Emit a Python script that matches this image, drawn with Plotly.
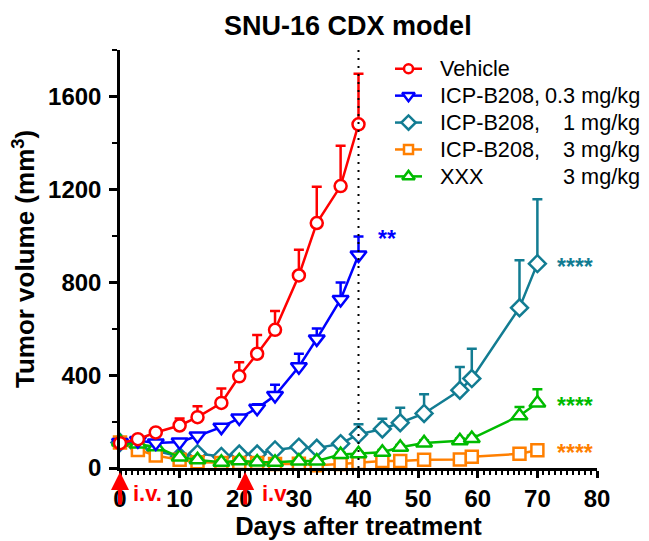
import plotly.graph_objects as go

# Measurement days (the first 13 visits are shared by every group)
days_short = [0, 3, 6, 10, 13, 17, 20, 23, 26, 30, 33, 37, 40]
days_long = days_short + [44, 47, 51, 57, 59, 67, 70]

# Mean tumor volume (mm^3) and upper SEM for each group
vehicle_mean = [107, 124, 153, 183, 219, 280, 395, 492, 595, 829, 1055, 1214, 1480]
vehicle_sem = [8, 10, 12, 30, 47, 62, 60, 81, 81, 111, 156, 174, 218]

b208_03_mean = [110, 118, 108, 112, 138, 176, 215, 257, 312, 436, 556, 726, 917]
b208_03_sem = [8, 8, 8, 8, 10, 12, 12, 18, 46, 56, 45, 73, 80]

b208_1_mean = [110, 92, 75, 50, 62, 50, 60, 60, 78, 90, 85, 105, 145,
               168, 195, 235, 335, 385, 690, 880]
b208_1_sem = [8, 8, 8, 8, 8, 8, 8, 8, 10, 10, 10, 12, 43,
              44, 64, 83, 100, 128, 205, 277]

b208_3_mean = [110, 78, 54, 35, 25, 21, 21, 21, 17, 18, 12, 17, 22,
               30, 30, 35, 37, 48, 61, 76]
b208_3_sem = [6, 6, 6, 5, 5, 5, 5, 5, 5, 5, 5, 5, 5,
              5, 6, 6, 6, 6, 8, 8]

xxx_mean = [112, 103, 92, 47, 35, 25, 31, 26, 25, 30, 30, 58, 61,
            68, 89, 108, 117, 127, 225, 280]
xxx_sem = [8, 8, 8, 8, 8, 8, 8, 8, 8, 8, 8, 8, 8,
           10, 10, 10, 10, 12, 38, 59]

# legend wording: compound / dose
legend_names = ["Vehicle", "ICP-B208,", "ICP-B208,", "ICP-B208,", "XXX"]
legend_doses = ["", "0.3 mg/kg", "1 mg/kg", "3 mg/kg", "3 mg/kg"]
significance = ["", "**", "****", "****", "****"]

dose_days = [0, 21]
cutoff_day = 40

FONT = "Liberation Sans, Arial, sans-serif"

# plot-area geometry in pixels (used to place the hand-built legend)
W, H = 649, 541
ML, MR, MT, MB = 120, 52, 50, 67
PW, PH = W - ML - MR, H - MT - MB

groups = [
    # days, mean, sem, colour, symbol, plot size, legend size, legend row
    (days_short, vehicle_mean, vehicle_sem, "#FF0000", "circle", 12, 9, 0),
    (days_short, b208_03_mean, b208_03_sem, "#0000FF", "triangle-down", 14, 11, 1),
    (days_long, b208_1_mean, b208_1_sem, "#127C92", "diamond", 13, 11, 2),
    (days_long, b208_3_mean, b208_3_sem, "#FF7F00", "square", 12, 9, 3),
    (days_long, xxx_mean, xxx_sem, "#00BB00", "triangle-up", 14, 11, 4),
]
draw_order = [2, 3, 4, 1, 0]

fig = go.Figure()
annotations = []

for gi in draw_order:
    d, m, s, col, sym, size, _, row = groups[gi]
    name = (legend_names[row] + " " + legend_doses[row]).strip()
    fig.add_trace(go.Scatter(
        x=d, y=m, name=name, mode="lines+markers", showlegend=False,
        cliponaxis=False,
        line=dict(color=col, width=2.5),
        marker=dict(symbol=sym, size=size, color="white",
                    line=dict(color=col, width=2.5)),
        error_y=dict(type="data", symmetric=False, array=s,
                     arrayminus=[0] * len(s), color=col,
                     thickness=2.5, width=5),
    ))
    stars = significance[row]
    if stars:
        if d[-1] == cutoff_day:
            ya, xs = m[-1] + s[-1], 28
        else:
            ya, xs = m[-1], 38
        annotations.append(dict(
            x=d[-1], y=ya, xref="x", yref="y", text=stars, showarrow=False,
            xshift=xs, yshift=-3,
            font=dict(family=FONT, size=23, color=col, weight="bold")))

# hand-built legend (key glyphs on a hidden overlay axis in pixel units)
LEG_LINE_X = (395, 422)
LEG_TEXT_X = 438
LEG_DOSE_RIGHT = 642
LEG_ROW0_Y, LEG_ROW_STEP = 69, 27.3
for d, m, s, col, sym, size, lsize, row in groups:
    py = LEG_ROW0_Y + LEG_ROW_STEP * row
    gx0, gx1 = LEG_LINE_X[0] - ML, LEG_LINE_X[1] - ML
    gy = H - MB - py
    fig.add_trace(go.Scatter(
        x=[gx0, gx1, None, (gx0 + gx1) / 2], y=[gy, gy, None, gy],
        xaxis="x2", yaxis="y2", mode="lines+markers", showlegend=False,
        hoverinfo="skip", cliponaxis=False,
        line=dict(color=col, width=2.5),
        marker=dict(symbol=sym, size=lsize, color="white",
                    opacity=[0, 0, 0, 1],
                    line=dict(color=col, width=2.5)),
    ))
    yp = gy / PH
    annotations.append(dict(
        x=(LEG_TEXT_X - ML) / PW, y=yp, xref="paper", yref="paper",
        xanchor="left", yanchor="middle", showarrow=False,
        text=legend_names[row],
        font=dict(family=FONT, size=21.7, color="black")))
    if legend_doses[row]:
        annotations.append(dict(
            x=(LEG_DOSE_RIGHT - ML) / PW, y=yp, xref="paper", yref="paper",
            xanchor="right", yanchor="middle", showarrow=False,
            text=legend_doses[row],
            font=dict(family=FONT, size=21.7, color="black")))

# dosing arrows below the time axis
for i, dd in enumerate(dose_days):
    annotations.append(dict(
        x=dd, y=0, xref="x", yref="y", text="", showarrow=True,
        ax=0, ay=38, arrowhead=2, arrowsize=0.9, arrowwidth=4,
        arrowcolor="#FF0000", standoff=4))
    annotations.append(dict(
        x=dd, y=0, xref="x", yref="y", text="i.v." if i == 0 else "i.v",
        showarrow=False, xshift=27 if i == 0 else 29, yshift=-25,
        font=dict(family=FONT, size=22, color="#FF0000", weight="bold")))

fig.add_shape(type="line", x0=cutoff_day, x1=cutoff_day, y0=0, y1=1,
              xref="x", yref="paper",
              line=dict(color="black", width=2, dash="2px,6px"))

axis_font = dict(family=FONT, size=24, color="black", weight="bold")

fig.update_layout(
    width=W, height=H,
    margin=dict(l=ML, r=MR, t=MT, b=MB),
    paper_bgcolor="white", plot_bgcolor="white",
    title=dict(text="SNU-16 CDX model", x=0.536, xanchor="center",
               y=0.952, yanchor="middle",
               font=dict(family=FONT, size=27, color="black", weight="bold")),
    xaxis=dict(range=[0, 80], tickmode="array",
               tickvals=list(range(0, 81, 10)),
               ticks="outside", ticklen=7, tickwidth=2.5, tickcolor="black",
               showline=True, linewidth=2.5, linecolor="black",
               showgrid=False, zeroline=False, tickfont=axis_font,
               minor=dict(dtick=1, ticks="outside", ticklen=4, tickwidth=2,
                          tickcolor="black", showgrid=False),
               title=dict(text="Days after treatment", standoff=0,
                          font=dict(family=FONT, size=25.5, color="black",
                                    weight="bold"))),
    yaxis=dict(range=[0, 1800], tickmode="array",
               tickvals=[0, 400, 800, 1200, 1600],
               ticks="outside", ticklen=8, tickwidth=2.5, tickcolor="black",
               ticklabelstandoff=3,
               showline=True, linewidth=2.5, linecolor="black",
               showgrid=False, zeroline=False, tickfont=axis_font,
               minor=dict(dtick=200, ticks="outside", ticklen=5, tickwidth=2,
                          tickcolor="black", showgrid=False),
               title=dict(text="Tumor volume (mm<sup>3</sup>)", standoff=6,
                          font=dict(family=FONT, size=26, color="black",
                                    weight="bold"))),
    xaxis2=dict(overlaying="x", range=[0, PW], visible=False,
                fixedrange=True),
    yaxis2=dict(overlaying="y", range=[0, PH], visible=False,
                fixedrange=True),
    annotations=annotations,
    showlegend=False,
)

fig.write_html("out.html")
